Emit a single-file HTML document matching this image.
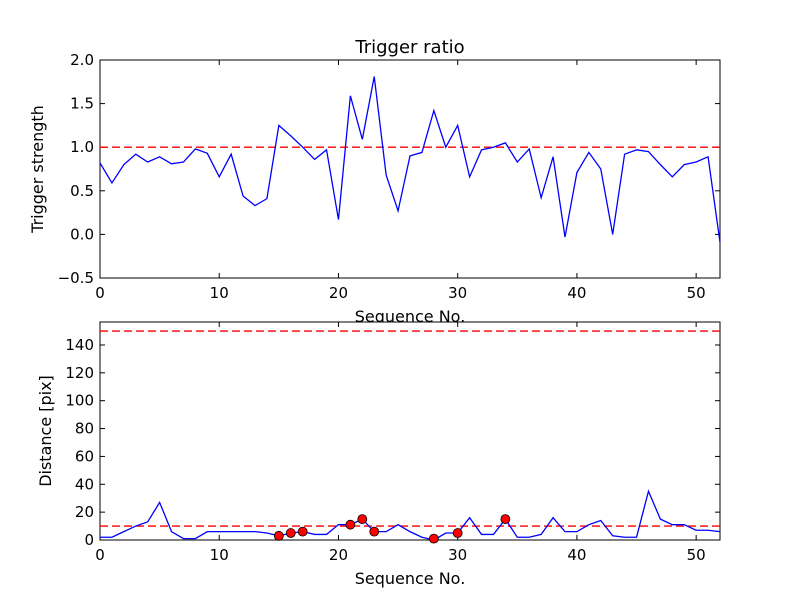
<!DOCTYPE html>
<html><head><meta charset="utf-8"><style>body{margin:0;background:#fff}svg{display:block;font-family:"DejaVu Sans","Liberation Sans",sans-serif}</style></head>
<body><svg id="c" width="800" height="600"></svg>
<script>
const seq=Array.from({length:53},(_,i)=>i);
const ratio=[0.82,0.59,0.80,0.92,0.83,0.89,0.81,0.83,0.98,0.93,0.66,0.92,0.44,0.33,0.41,1.25,1.13,1.0,0.86,0.97,0.17,1.59,1.09,1.81,0.68,0.27,0.90,0.94,1.42,1.0,1.25,0.66,0.97,1.0,1.05,0.83,0.98,0.42,0.89,-0.03,0.71,0.94,0.75,0.0,0.92,0.97,0.95,0.80,0.66,0.80,0.83,0.89,-0.09];
const dist=[2,2,6,10,13,27,6,1,1,6,6,6,6,6,5,3,5,6,4,4,11,11,15,6,6,11,6,2,0,5,5,16,4,4,15,2,2,4,16,6,6,11,14,3,2,2,35,15,11,11,7,7,6];
const flagX=[15,16,17,21,22,23,28,30,34];
const flagY=[3,5,6,11,15,6,1,5,15];
const ratioTicks=[-0.5,0.0,0.5,1.0,1.5,2.0];
const distTicks=[0,20,40,60,80,100,120,140];
const xTicks=[0,10,20,30,40,50];
const ratioThr=1.0, distThrs=[150,10];
const NS="http://www.w3.org/2000/svg",svg=document.getElementById('c');
function el(t,a,txt){const e=document.createElementNS(NS,t);for(const k in a)e.setAttribute(k,a[k]);if(txt!==undefined)e.textContent=txt;svg.appendChild(e);return e;}
const L=100,R=720;const sx=v=>L+(v-0)/(52-0)*(R-L);
function panel(top,bot,ymin,ymax,yt,yfmt,ytitle,name){
 const sy=v=>bot-(v-ymin)/(ymax-ymin)*(bot-top);
 let e;
 e=el('rect',{x:L,y:top,width:R-L,height:bot-top,fill:'#fff',stroke:'#000','stroke-width':1});
 
 xTicks.forEach(t=>{const x=sx(t);el('line',{x1:x,y1:bot,x2:x,y2:bot-5,stroke:'#000'});el('line',{x1:x,y1:top,x2:x,y2:top+5,stroke:'#000'});
  e=el('text',{x:x,y:bot+20,'text-anchor':'middle','font-size':15},t);});
 yt.forEach(t=>{const y=sy(t);el('line',{x1:L,y1:y,x2:L+5,y2:y,stroke:'#000'});el('line',{x1:R,y1:y,x2:R-5,y2:y,stroke:'#000'});
  e=el('text',{x:L-6,y:y+5,'text-anchor':'end','font-size':15},yfmt(t));});
 e=el('text',{x:410,y:bot+44,'text-anchor':'middle','font-size':16},'Sequence No.');
 const cy=(top+bot)/2;
 e=el('text',{x:0,y:0,'text-anchor':'middle','font-size':16,transform:`translate(${name==='top'?43:51},${cy}) rotate(-90)`},ytitle);
 return sy;
}
const sy1=panel(60,278,-0.5,2.0,ratioTicks,t=>t.toFixed(1).replace('-','\u2212'),'Trigger strength','top');
const sy2=panel(322,540,0,156.5,distTicks,t=>t,'Distance [pix]','bottom');
let e=el('text',{x:410,y:53,'text-anchor':'middle','font-size':18},'Trigger ratio');
e=el('line',{x1:L,x2:R,y1:sy1(ratioThr),y2:sy1(ratioThr),stroke:'#f00','stroke-width':1.3,'stroke-dasharray':'8,4'});
e=el('polyline',{points:seq.map((s,i)=>sx(s)+','+sy1(ratio[i])).join(' '),fill:'none',stroke:'#00f','stroke-width':1.3});
distThrs.forEach(v=>{const e=el('line',{x1:L,x2:R,y1:sy2(v),y2:sy2(v),stroke:'#f00','stroke-width':1.3,'stroke-dasharray':'8,4'});});
e=el('polyline',{points:seq.map((s,i)=>sx(s)+','+sy2(dist[i])).join(' '),fill:'none',stroke:'#00f','stroke-width':1.3});
flagX.forEach((x,i)=>{const e=el('circle',{cx:sx(x),cy:sy2(flagY[i]),r:4.5,fill:'#f00',stroke:'#000','stroke-width':0.8});});
</script></body></html>
